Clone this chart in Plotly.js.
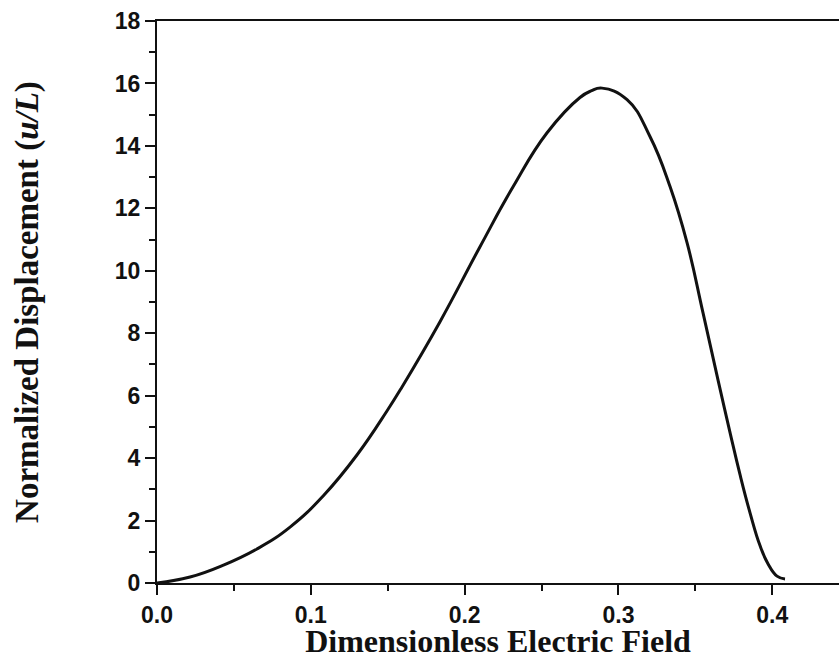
<!DOCTYPE html>
<html>
<head>
<meta charset="utf-8">
<script src="https://cdn.plot.ly/plotly-3.0.1.min.js"></script>
<style>html,body{margin:0;padding:0;background:#fff;}#chart{width:839px;height:659px;}</style>
</head>
<body>
<div id="chart"></div>
<script>
var fieldValues = [0, 0.0215, 0.0436, 0.0650, 0.0865, 0.1086, 0.1300, 0.1495, 0.1593, 0.1840, 0.2100, 0.2315, 0.2536, 0.2750, 0.2822, 0.2893, 0.3056, 0.3205, 0.3336, 0.3446, 0.3550, 0.3648, 0.3726, 0.3791, 0.3856, 0.3921, 0.3973, 0.4031, 0.4083];
var displacementValues = [0, 0.19, 0.58, 1.09, 1.79, 2.82, 4.10, 5.51, 6.28, 8.37, 10.77, 12.69, 14.42, 15.55, 15.76, 15.85, 15.48, 14.30, 12.69, 10.90, 8.65, 6.49, 4.81, 3.46, 2.24, 1.19, 0.61, 0.22, 0.13];
var xTickValues = [0, 0.1, 0.2, 0.3, 0.4];
var xTickLabels = ["0.0", "0.1", "0.2", "0.3", "0.4"];
var yTickValues = [0, 2, 4, 6, 8, 10, 12, 14, 16, 18];
var xTitle = "Dimensionless Electric Field";
var yTitle = "Normalized Displacement (<i>u/L</i>)";

var tickFont = {family: "Liberation Sans, Arial, sans-serif", size: 23, color: "#111", weight: "bold"};
var xTitleFont = {family: "Liberation Serif, Times New Roman, serif", size: 32, color: "#111", weight: "bold"};
var yTitleFont = {family: "Liberation Serif, Times New Roman, serif", size: 33, color: "#111", weight: "bold"};

Plotly.newPlot("chart", [{
  x: fieldValues,
  y: displacementValues,
  type: "scatter",
  mode: "lines",
  line: {color: "#111", width: 3, shape: "spline", smoothing: 1.3},
  hoverinfo: "skip"
}], {
  width: 839,
  height: 659,
  margin: {l: 157, r: 0, t: 21, b: 76},
  paper_bgcolor: "#fff",
  plot_bgcolor: "#fff",
  showlegend: false,
  xaxis: {
    range: [0, 0.4434],
    tickvals: xTickValues,
    ticktext: xTickLabels,
    ticks: "outside",
    ticklen: 10,
    tickwidth: 2,
    tickcolor: "#111",
    showline: true,
    linecolor: "#111",
    linewidth: 2,
    mirror: true,
    showgrid: false,
    zeroline: false,
    tickfont: tickFont,
    minor: {dtick: 0.05, tick0: 0, ticks: "outside", ticklen: 6, tickwidth: 2, tickcolor: "#111", showgrid: false},
    title: {text: xTitle, font: xTitleFont, standoff: 8}
  },
  yaxis: {
    range: [0, 18],
    tickvals: yTickValues,
    ticks: "outside",
    ticklen: 10,
    tickwidth: 2,
    tickcolor: "#111",
    showline: true,
    linecolor: "#111",
    linewidth: 2,
    mirror: false,
    showgrid: false,
    zeroline: false,
    tickfont: tickFont,
    minor: {dtick: 1, tick0: 0, ticks: "outside", ticklen: 6, tickwidth: 2, tickcolor: "#111", showgrid: false},
    title: {text: yTitle, font: yTitleFont, standoff: 66}
  }
}, {staticPlot: true, displayModeBar: false});
</script>
</body>
</html>
